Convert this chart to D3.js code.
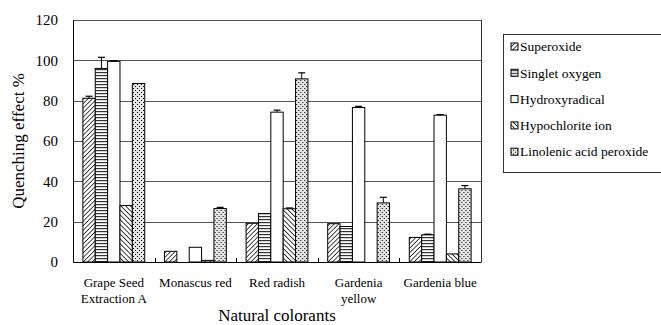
<!DOCTYPE html>
<html>
<head>
<meta charset="utf-8">
<script src="https://cdn.jsdelivr.net/npm/d3@7"></script>
<style>
  body { margin: 0; background: #fff; }
</style>
</head>
<body>
<div id="chart"></div>
<script>
// categories and series
const categories = ["Grape Seed|Extraction A", "Monascus red", "Red radish", "Gardenia|yellow", "Gardenia blue"];
const series = ["Superoxide", "Singlet oxygen", "Hydroxyradical", "Hypochlorite ion", "Linolenic acid peroxide"];

// values per series, one entry per category
const superoxide   = [81.2, 5.3, 19.2, 19.0, 12.2];
const singlet      = [96.0, 0.0, 24.0, 17.6, 13.5];
const hydroxy      = [99.5, 7.3, 74.3, 76.6, 72.8];
const hypochlorite = [28.0, 0.8, 26.4, 0.0, 4.0];
const linolenic    = [88.5, 26.5, 90.8, 29.3, 36.3];

// upward error bars (same layout)
const superoxideErr   = [1.0, 0, 0, 0, 0];
const singletErr      = [5.5, 0, 0, 0, 0.3];
const hydroxyErr      = [0.3, 0, 1.0, 0.6, 0.3];
const hypochloriteErr = [0, 0, 0.4, 0, 0];
const linolenicErr    = [0, 0.6, 3.0, 2.8, 1.6];

const yTicks = [0, 20, 40, 60, 80, 100, 120];

const values = [superoxide, singlet, hydroxy, hypochlorite, linolenic];
const errors = [superoxideErr, singletErr, hydroxyErr, hypochloriteErr, linolenicErr];
const fills = ["url(#p-sup)", "url(#p-sing)", "#fff", "url(#p-hyp)", "url(#p-lin)"];

const W = 661, H = 325;
const margin = { left: 73, right: 180, top: 20, bottom: 63 };
const serif = "'Liberation Serif'";

const svg = d3.select("#chart").append("svg")
  .attr("width", W).attr("height", H);

// patterns
const defs = svg.append("defs");
const pSup = defs.append("pattern").attr("id", "p-sup")
  .attr("patternUnits", "userSpaceOnUse").attr("width", 3.2).attr("height", 3.2)
  .attr("patternTransform", "rotate(45)");
pSup.append("rect").attr("width", 3.2).attr("height", 3.2).attr("fill", "#fff");
pSup.append("line").attr("x1", 0).attr("y1", 0).attr("x2", 0).attr("y2", 3.2)
  .attr("stroke", "#000").attr("stroke-width", 1.4);

const pHyp = defs.append("pattern").attr("id", "p-hyp")
  .attr("patternUnits", "userSpaceOnUse").attr("width", 3.4).attr("height", 3.4)
  .attr("patternTransform", "rotate(-45)");
pHyp.append("rect").attr("width", 3.4).attr("height", 3.4).attr("fill", "#fff");
pHyp.append("line").attr("x1", 0).attr("y1", 0).attr("x2", 0).attr("y2", 3.4)
  .attr("stroke", "#000").attr("stroke-width", 1.5);

const pSing = defs.append("pattern").attr("id", "p-sing")
  .attr("patternUnits", "userSpaceOnUse").attr("width", 4).attr("height", 3);
pSing.append("rect").attr("width", 4).attr("height", 3).attr("fill", "#fff");
pSing.append("rect").attr("y", 0).attr("width", 4).attr("height", 1.2).attr("fill", "#333");

const pLin = defs.append("pattern").attr("id", "p-lin")
  .attr("patternUnits", "userSpaceOnUse").attr("width", 4).attr("height", 4);
pLin.append("rect").attr("width", 4).attr("height", 4).attr("fill", "#e4e4e4");
pLin.append("rect").attr("x", 0).attr("y", 0).attr("width", 1).attr("height", 1).attr("fill", "#000");
pLin.append("rect").attr("x", 2).attr("y", 2).attr("width", 1).attr("height", 1).attr("fill", "#000");

const x0 = d3.scaleBand()
  .domain(categories)
  .range([margin.left, W - margin.right])
  .padding(0);

const x1 = d3.scaleBand()
  .domain(series)
  .range([0, x0.bandwidth()])
  .paddingInner(0)
  .paddingOuter(0.8);

const y = d3.scaleLinear()
  .domain([0, 120])
  .range([H - margin.bottom, margin.top]);

// gridlines
svg.append("g")
  .selectAll("line")
  .data(yTicks.filter(d => d > 0))
  .enter().append("line")
  .attr("x1", margin.left).attr("x2", W - margin.right)
  .attr("y1", d => Math.round(y(d)) + 0.5).attr("y2", d => Math.round(y(d)) + 0.5)
  .attr("stroke", "#555").attr("stroke-width", 1);

// right border
svg.append("line")
  .attr("x1", W - margin.right + 0.5).attr("x2", W - margin.right + 0.5)
  .attr("y1", y(120)).attr("y2", y(0))
  .attr("stroke", "#333");

// bars
const groups = svg.append("g").selectAll("g")
  .data(categories)
  .enter().append("g")
  .attr("transform", d => `translate(${x0(d)},0)`);

groups.each(function (cat, ci) {
  const g = d3.select(this);
  series.forEach((s, si) => {
    const v = values[si][ci];
    if (v <= 0) return;
    g.append("rect")
      .attr("x", x1(s))
      .attr("y", y(v))
      .attr("width", x1.bandwidth())
      .attr("height", y(0) - y(v))
      .attr("fill", fills[si])
      .attr("stroke", "#000")
      .attr("stroke-width", 1);
    const e = errors[si][ci];
    if (e > 0) {
      const cx = x1(s) + x1.bandwidth() / 2;
      g.append("line")
        .attr("x1", cx).attr("x2", cx)
        .attr("y1", y(v)).attr("y2", y(v + e))
        .attr("stroke", "#000");
      g.append("line")
        .attr("x1", cx - 3.5).attr("x2", cx + 3.5)
        .attr("y1", y(v + e)).attr("y2", y(v + e))
        .attr("stroke", "#000").attr("stroke-width", 1.2);
    }
  });
});

// y axis
const yAxis = svg.append("g")
  .attr("transform", `translate(${margin.left},0)`)
  .call(d3.axisLeft(y).tickValues(yTicks).tickSize(0).tickPadding(15));
yAxis.attr("font-family", null).attr("font-size", null);
yAxis.select(".domain").attr("stroke", "#000");
yAxis.selectAll("text")
  .attr("font-family", serif)
  .attr("font-size", 15)
  .attr("fill", "#000");

// x axis
const xAxis = svg.append("g")
  .attr("transform", `translate(0,${y(0)})`)
  .call(d3.axisBottom(x0).tickSize(0).tickFormat(""));
xAxis.select(".domain").attr("stroke", "#000");

// inner ticks at category boundaries
svg.append("g").selectAll("line")
  .data(categories.slice(1))
  .enter().append("line")
  .attr("x1", d => Math.round(x0(d)) + 0.5).attr("x2", d => Math.round(x0(d)) + 0.5)
  .attr("y1", y(0)).attr("y2", y(0) - 4)
  .attr("stroke", "#000");

// category labels
const catLabels = svg.append("g").selectAll("text")
  .data(categories)
  .enter().append("text")
  .attr("x", d => x0(d) + x0.bandwidth() / 2)
  .attr("y", y(0) + 25)
  .attr("text-anchor", "middle")
  .attr("font-family", serif)
  .attr("font-size", 13);
catLabels.each(function (d) {
  const t = d3.select(this);
  d.split("|").forEach((line, i) => {
    t.append("tspan")
      .attr("x", x0(d) + x0.bandwidth() / 2)
      .attr("dy", i === 0 ? 0 : 16)
      .text(line);
  });
});

// axis titles
svg.append("text")
  .attr("x", (margin.left + W - margin.right) / 2)
  .attr("y", 321)
  .attr("text-anchor", "middle")
  .attr("font-family", serif)
  .attr("font-size", 17)
  .text("Natural colorants");

svg.append("text")
  .attr("transform", `translate(24,${(y(0) + y(120)) / 2}) rotate(-90)`)
  .attr("text-anchor", "middle")
  .attr("font-family", serif)
  .attr("font-size", 17)
  .text("Quenching effect %");

// legend
const legend = svg.append("g");
legend.append("rect")
  .attr("x", 503.5).attr("y", 34.5)
  .attr("width", 160).attr("height", 138)
  .attr("fill", "#fff").attr("stroke", "#333");

const li = legend.selectAll("g.item")
  .data(series)
  .enter().append("g")
  .attr("class", "item")
  .attr("transform", (d, i) => `translate(511,${46.5 + i * 26.3})`);
li.append("rect")
  .attr("x", 0).attr("y", -3.5).attr("width", 7).attr("height", 7)
  .attr("fill", (d, i) => fills[i])
  .attr("stroke", "#000").attr("stroke-width", 1);
li.append("text")
  .attr("x", 9).attr("y", 0).attr("dy", "0.35em")
  .attr("font-family", serif)
  .attr("font-size", 13.5)
  .text(d => d);
</script>
</body>
</html>
